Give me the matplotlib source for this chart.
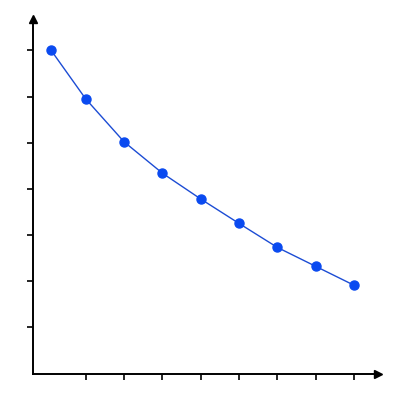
import matplotlib
matplotlib.use('Agg')
import matplotlib.pyplot as plt

# Data
x_values = [1.1, 2, 3, 4, 5, 6, 7, 8, 9]
y_values = [7.0, 5.95, 5.02, 4.34, 3.78, 3.25, 2.73, 2.32, 1.91]
x_ticks = [2, 3, 4, 5, 6, 7, 8, 9]
y_ticks = [1, 2, 3, 4, 5, 6, 7]

line_color = '#1c4cd4'
marker_color = '#0a4af0'

fig = plt.figure(figsize=(4, 4), dpi=100)
ax = fig.add_axes([33 / 400, 26.5 / 400, (378 - 33) / 400, (373.5 - 19) / 400])

ax.plot(x_values, y_values, color=line_color, linewidth=1.0, zorder=3)
ax.plot(x_values, y_values, 'o', color=marker_color, markersize=6.5, zorder=4)

ax.set_xlim(0.627, 9.62)
ax.set_ylim(0, 7.68)
ax.set_xticks(x_ticks)
ax.set_yticks(y_ticks)
ax.set_xticklabels([])
ax.set_yticklabels([])
ax.tick_params(direction='out', length=4.3, width=1.2, color='black')

# Axes as arrows
for side in ['top', 'right']:
    ax.spines[side].set_visible(False)
for side in ['left', 'bottom']:
    ax.spines[side].set_linewidth(1.4)
ax.plot(1, 0, '>', color='black', markersize=6, transform=ax.transAxes, clip_on=False)
ax.plot(0, 1, '^', color='black', markersize=6, transform=ax.transAxes, clip_on=False)

plt.savefig('out.png', dpi=100)
